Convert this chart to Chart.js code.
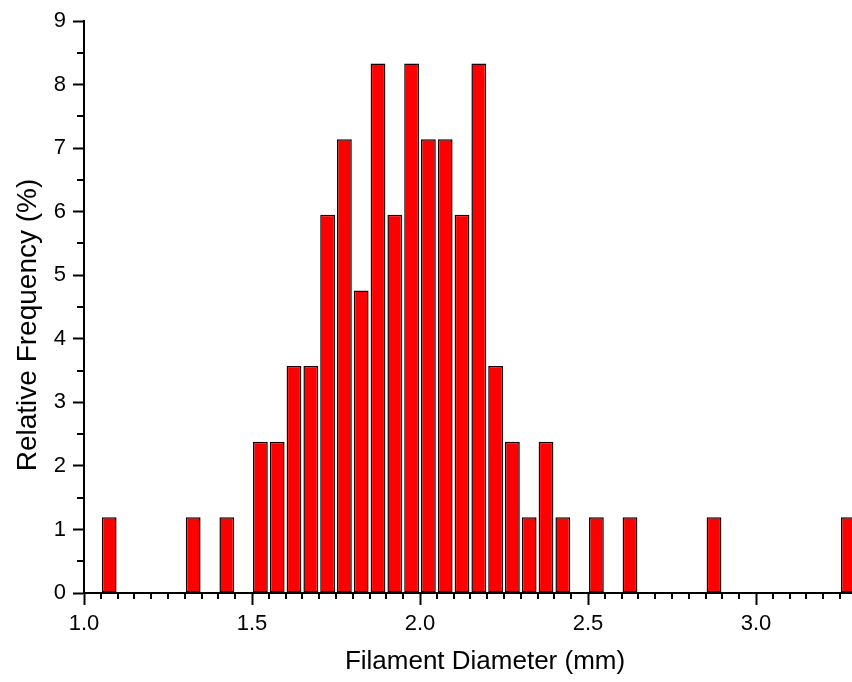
<!DOCTYPE html>
<html>
<head>
<meta charset="utf-8">
<script src="https://cdn.jsdelivr.net/npm/chart.js@4/dist/chart.umd.min.js"></script>
<style>
  html, body { margin: 0; padding: 0; background: #fff; overflow: hidden; }
  #wrap { width: 852px; height: 682px; }
</style>
</head>
<body>
<div id="wrap"><canvas id="histChart" width="852" height="682"></canvas></div>
<script>
// bin centres (mm) and relative frequency (%)
const binCenters = [1.075, 1.325, 1.425, 1.525, 1.575, 1.625, 1.675, 1.725, 1.775, 1.825,
                    1.875, 1.925, 1.975, 2.025, 2.075, 2.125, 2.175, 2.225, 2.275, 2.325,
                    2.375, 2.425, 2.525, 2.625, 2.875, 3.275];
const relFreq = [1.19, 1.19, 1.19, 2.38, 2.38, 3.57, 3.57, 5.95, 7.14, 4.76,
                 8.33, 5.95, 8.33, 7.14, 7.14, 5.95, 8.33, 3.57, 2.38, 1.19,
                 2.38, 1.19, 1.19, 1.19, 1.19, 1.19];
const xMajorTicks = [1.0, 1.5, 2.0, 2.5, 3.0];
const yMajorTicks = [0, 1, 2, 3, 4, 5, 6, 7, 8, 9];

const xTitle = 'Filament Diameter (mm)';
const yTitle = 'Relative Frequency (%)';
const fontFamily = '"Liberation Sans", Arial, sans-serif';

// small ticks between the labelled ones (0.05 mm on x, 0.5 % on y)
const minorTicks = {
    id: 'minorTicks',
    afterDraw(chart) {
        const ctx = chart.ctx;
        const xs = chart.scales.x;
        const ys = chart.scales.y;
        const area = chart.chartArea;
        ctx.save();
        ctx.strokeStyle = '#000';
        ctx.lineWidth = 2;
        ctx.beginPath();
        for (let i = 1; i * 0.05 + 1.0 <= xs.max + 1e-9; i++) {
            if (i % 10 === 0) continue;
            const px = Math.round(xs.getPixelForValue(1.0 + i * 0.05));
            ctx.moveTo(px, area.bottom);
            ctx.lineTo(px, area.bottom + 6);
        }
        for (let v = 0.5; v < ys.max; v += 1) {
            const py = Math.round(ys.getPixelForValue(v));
            ctx.moveTo(area.left - 7, py);
            ctx.lineTo(area.left, py);
        }
        ctx.stroke();
        ctx.restore();
    }
};

// axis titles (the original figure is cropped on the right, so they sit off-centre)
const axisTitles = {
    id: 'axisTitles',
    afterDraw(chart) {
        const ctx = chart.ctx;
        const area = chart.chartArea;
        ctx.save();
        ctx.fillStyle = '#000';
        ctx.textAlign = 'center';
        ctx.textBaseline = 'middle';
        ctx.font = '26px ' + fontFamily;
        ctx.fillText(xTitle, area.left + 401, area.bottom + 69);
        ctx.translate(28, area.top + 304);
        ctx.rotate(-Math.PI / 2);
        ctx.font = '28px ' + fontFamily;
        ctx.fillText(yTitle, 0, 0);
        ctx.restore();
    }
};

new Chart(document.getElementById('histChart'), {
    type: 'bar',
    data: {
        datasets: [{
            data: binCenters.map((c, i) => ({ x: c, y: relFreq[i] })),
            backgroundColor: '#ff0000',
            borderColor: '#1a0000',
            borderWidth: 1.5,
            borderSkipped: false,
            barPercentage: 0.88,
            categoryPercentage: 1.0
        }]
    },
    options: {
        responsive: false,
        animation: false,
        layout: { padding: { top: 21, right: 0, left: 0, bottom: 0 } },
        plugins: {
            legend: { display: false },
            tooltip: { enabled: false }
        },
        scales: {
            x: {
                type: 'linear',
                min: 1.0,
                max: 3.2857,
                offset: false,
                afterBuildTicks: function(scale) {
                    scale.ticks = xMajorTicks.map(v => ({ value: v }));
                },
                afterFit: function(scale) { scale.height = 89; },
                border: { display: true, color: '#000', width: 2 },
                grid: { offset: false, drawOnChartArea: false, drawTicks: true, tickLength: 12, tickColor: '#000', tickWidth: 2 },
                ticks: {
                    color: '#000',
                    padding: 6,
                    maxRotation: 0,
                    font: { family: fontFamily, size: 22 },
                    callback: function(value) { return Number(value).toFixed(1); }
                },
                title: { display: false }
            },
            y: {
                min: 0,
                max: 9,
                afterBuildTicks: function(scale) {
                    scale.ticks = yMajorTicks.map(v => ({ value: v }));
                },
                afterFit: function(scale) { scale.width = 84; },
                border: { display: true, color: '#000', width: 2 },
                grid: { drawOnChartArea: false, drawTicks: true, tickLength: 11, tickColor: '#000', tickWidth: 2 },
                ticks: {
                    color: '#000',
                    padding: 7,
                    font: { family: fontFamily, size: 22 }
                },
                title: { display: false }
            }
        }
    },
    plugins: [minorTicks, axisTitles]
});
</script>
</body>
</html>
